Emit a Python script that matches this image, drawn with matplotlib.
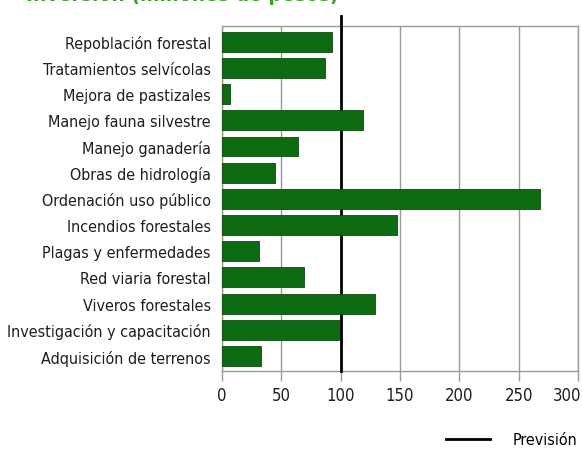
import matplotlib
matplotlib.use("Agg")
import matplotlib.pyplot as plt
from matplotlib import font_manager as fm
from matplotlib import transforms
from matplotlib.lines import Line2D

# partidas y montos
partidas = [
    "Repoblación forestal",
    "Tratamientos selvícolas",
    "Mejora de pastizales",
    "Manejo fauna silvestre",
    "Manejo ganadería",
    "Obras de hidrología",
    "Ordenación uso público",
    "Incendios forestales",
    "Plagas y enfermedades",
    "Red viaria forestal",
    "Viveros forestales",
    "Investigación y capacitación",
    "Adquisición de terrenos",
]
montos = [93, 86.5, 7, 119, 64, 44.5, 268, 147.5, 31, 69.5, 129, 99, 32.5]
prevision = 100
xticks = [0, 50, 100, 150, 200, 250, 300]

# buscar una fuente estrecha si hay alguna
nombres = {(f.name, f.stretch) for f in fm.fontManager.ttflist}
fuente = "DejaVu Sans"
ancho = "normal"
for nombre, st in [("Liberation Sans Narrow", None), ("DejaVu Sans", "condensed"),
                   ("Roboto Condensed", None), ("Open Sans Condensed", None)]:
    if any(n == nombre and (st is None or s == st) for n, s in nombres):
        fuente = nombre
        ancho = st or "normal"
        break

verde = "#0c6a10"
gris = "#9a9a9a"

fig = plt.figure(figsize=(5.82, 4.52), dpi=100)
ax = fig.add_axes([0.3814, 0.1777, 0.6117, 0.7619])

pos = list(range(len(partidas)))
ax.barh(pos, montos, height=0.76, color=verde, edgecolor="#0a4d0c",
        linewidth=0.6, zorder=3)

# linea de prevision
ax.axvline(prevision, ymin=0, ymax=1.03, color="black", linewidth=2.0,
           zorder=2, clip_on=False)

ax.set_xlim(0, 300)
ax.set_ylim(12.56, -0.59)
ax.set_yticks(pos)
ax.set_yticklabels(partidas, family=fuente, stretch=ancho, fontsize=11.5,
                   color="#1e1e1e")
ax.set_xticks(xticks)
ax.set_xticklabels([str(t) for t in xticks], family=fuente, stretch=ancho,
                   fontsize=12, color="#1e1e1e")
ax.tick_params(axis="y", length=0, pad=8)
ax.tick_params(axis="x", length=7, width=1, color=gris, pad=4)
ax.grid(axis="x", color=gris, linewidth=1, zorder=1)
for s in ax.spines.values():
    s.set_color(gris)
    s.set_linewidth(1)
    s.set_zorder(1)

# la ultima etiqueta se corre a la izquierda para que quepa
ultima = ax.get_xticklabels()[-1]
ultima.set_horizontalalignment("right")
ultima.set_transform(ultima.get_transform() +
                     transforms.ScaledTranslation(3 / 100, 0, fig.dpi_scale_trans))

# titulo recortado en el borde superior
fig.text(0.045, 1 - 1 / 452, "Inversión (millones de pesos)", color="#3aa02a",
         fontsize=15, fontweight="bold", family=fuente, stretch=ancho,
         va="baseline")

leg = [Line2D([0], [0], color="black", linewidth=2)]
fig.legend(leg, ["Previsión"], loc="lower right",
           bbox_to_anchor=(1.017, -0.024), frameon=False,
           prop={"family": fuente, "stretch": ancho, "size": 11.5},
           handlelength=2.8, handletextpad=1.4)

fig.savefig("out.png", dpi=100)
